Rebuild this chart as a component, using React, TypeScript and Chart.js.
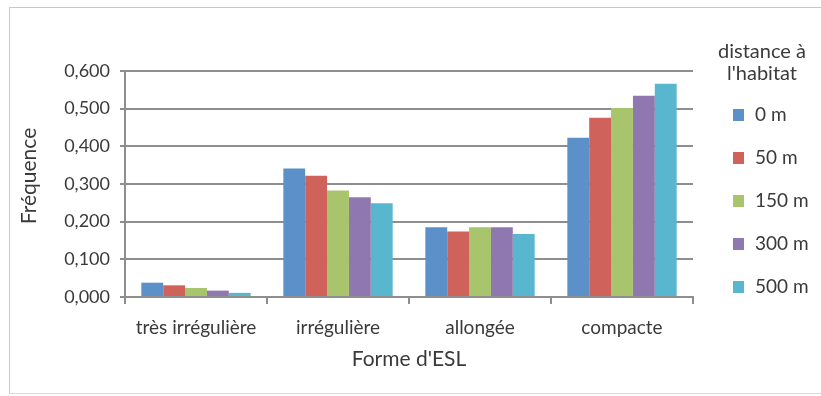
import React, { useEffect, useRef } from "react";
import { Chart, registerables } from "chart.js";

Chart.register(...registerables);

const categories = ["très irrégulière", "irrégulière", "allongée", "compacte"];
const seriesLabels = ["0 m", "50 m", "150 m", "300 m", "500 m"];
const values0m = [0.038, 0.341, 0.185, 0.423];
const values50m = [0.031, 0.322, 0.174, 0.476];
const values150m = [0.024, 0.283, 0.185, 0.502];
const values300m = [0.017, 0.265, 0.185, 0.534];
const values500m = [0.011, 0.249, 0.167, 0.566];
const seriesValues = [values0m, values50m, values150m, values300m, values500m];
const seriesColors = ["#5b90c8", "#cf635c", "#a8c46c", "#8f78b0", "#58b6cf"];
const yMin = 0;
const yMax = 0.6;
const yStep = 0.1;
const legendTitle = ["distance à", "l'habitat"];
const xTitle = "Forme d'ESL";
const yTitle = "Fréquence";

const FONT = "Lato";
const TEXT = "#3a3a3a";
const GRID = "#8e8e8e";

const extras = {
  id: "extras",
  afterDraw(chart: any) {
    const ctx = chart.ctx;
    ctx.save();
    ctx.fillStyle = TEXT;
    ctx.textBaseline = "middle";
    // y-axis title
    ctx.save();
    ctx.font = `21px ${FONT}`;
    ctx.translate(29, 176);
    ctx.rotate(-Math.PI / 2);
    ctx.textAlign = "center";
    ctx.fillText(yTitle, 0, 0);
    ctx.restore();
    // legend
    ctx.font = `20px ${FONT}`;
    ctx.textAlign = "center";
    legendTitle.forEach((t, i) => ctx.fillText(t, 762, 52 + i * 22));
    ctx.font = `19px ${FONT}`;
    chart.data.datasets.forEach((ds: any, i: number) => {
      const y = 115 + i * 43;
      ctx.fillStyle = ds.backgroundColor;
      ctx.fillRect(733, y - 6, 11, 12);
      ctx.fillStyle = TEXT;
      ctx.textAlign = "left";
      ctx.fillText(ds.label, 755, y);
    });
    ctx.restore();
  },
};

export default function App() {
  const ref = useRef<HTMLCanvasElement | null>(null);
  useEffect(() => {
    if (!ref.current) return;
    const chart = new Chart(ref.current, {
      type: "bar",
      data: {
        labels: categories,
        datasets: seriesLabels.map((label, i) => ({
          label,
          data: seriesValues[i],
          backgroundColor: seriesColors[i],
          borderWidth: 0,
          categoryPercentage: 0.77,
          barPercentage: 1,
        })),
      },
      options: {
        animation: false,
        responsive: false,
        layout: { padding: { left: 0, top: 71, right: 128, bottom: 0 } },
        plugins: {
          legend: { display: false },
          tooltip: { enabled: false },
        },
        scales: {
          x: {
            grid: {
              offset: true,
              drawOnChartArea: false,
              tickLength: 7,
              color: GRID,
              lineWidth: 2,
            },
            border: { color: GRID, width: 2 },
            ticks: { padding: 12, font: { family: FONT, size: 19 }, color: TEXT },
            title: {
              display: true,
              text: xTitle,
              font: { family: FONT, size: 21 },
              color: TEXT,
              padding: { top: 0, bottom: 24 },
            },
            afterFit(s: any) {
              s.height = 99;
            },
          },
          y: {
            min: yMin,
            max: yMax,
            ticks: {
              stepSize: yStep,
              padding: 10,
              font: { family: FONT, size: 18 },
              color: TEXT,
              callback: (v: any) => Number(v).toFixed(3).replace(".", ","),
            },
            grid: { color: GRID, lineWidth: 2, tickLength: 5 },
            border: { color: GRID, width: 2 },
            afterFit(s: any) {
              s.width = 125;
            },
          },
        },
      },
      plugins: [extras],
    });
    return () => chart.destroy();
  }, []);
  return (
    <div style={{ position: "absolute", left: 0, top: 0, width: 821, height: 396, background: "#fff" }}>
      <div
        style={{
          position: "absolute",
          left: 9,
          top: 7,
          width: 812,
          height: 387,
          borderLeft: "1px solid #c9c9c9",
          borderTop: "1px solid #c9c9c9",
          borderBottom: "1px solid #d9d9d9",
          boxSizing: "border-box",
        }}
      />
      <canvas ref={ref} width={821} height={396} style={{ position: "absolute", left: 0, top: 0 }} />
    </div>
  );
}
